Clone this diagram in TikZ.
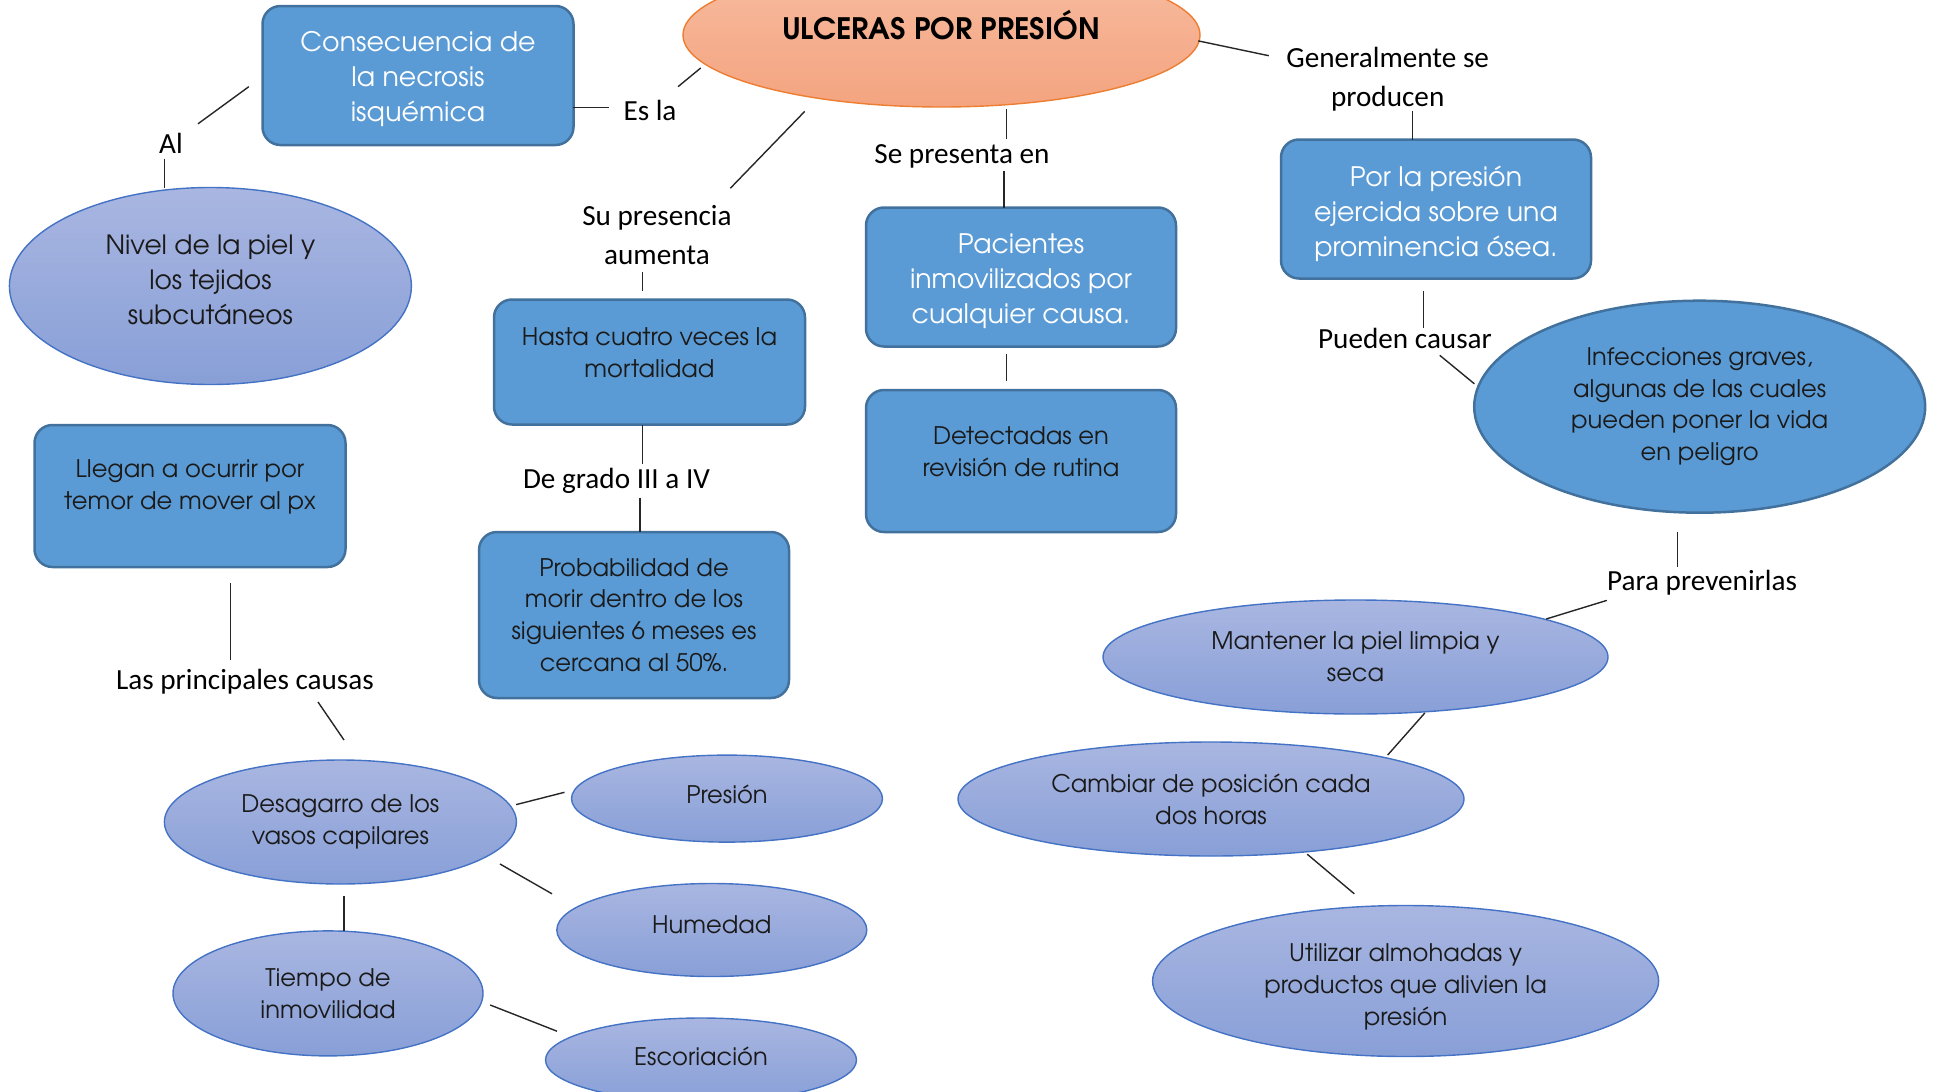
\documentclass[tikz,border=0pt]{standalone}
\usepackage{fontspec}
\usetikzlibrary{shapes.geometric}
\newfontfamily\gothfont{texgyreadventor}[Extension=.otf, UprightFont=*-regular, BoldFont=*-bold]
\newfontfamily\lblfont{Carlito}
\definecolor{boxblue}{HTML}{5B9BD5}
\definecolor{boxedge}{HTML}{41719C}
\definecolor{lavtop}{HTML}{A9B6E1}
\definecolor{lavbot}{HTML}{889FD7}
\definecolor{lavedge}{HTML}{4472C4}
\definecolor{orgtop}{HTML}{F7BCA1}
\definecolor{orgbot}{HTML}{F4A47F}
\definecolor{orgedge}{HTML}{ED7D31}
\definecolor{txtdark}{HTML}{1A1A1A}
\tikzset{
  bluebox/.style={draw=boxedge, line width=2.5pt, fill=boxblue, rounded corners=18pt, inner sep=0pt},
  lavell/.style={ellipse, draw=lavedge, line width=1.4pt, top color=lavtop, bottom color=lavbot, inner sep=0pt},
  blueell/.style={ellipse, draw=boxedge, line width=2.5pt, fill=boxblue, inner sep=0pt},
  titleell/.style={ellipse, draw=orgedge, line width=1.4pt, top color=orgtop, bottom color=orgbot, inner sep=0pt},
  bigwhite/.style={align=center, text=white, font=\gothfont\fontsize{26.8}{34.7}\selectfont},
  smalldark/.style={align=center, text=txtdark, font=\gothfont\fontsize{24.2}{31.8}\selectfont},
  bigdark/.style={align=center, text=txtdark, font=\gothfont\fontsize{26.5}{34.7}\selectfont},
  lbl/.style={align=center, text=black, font=\lblfont\fontsize{29.2}{38.6}\selectfont, inner sep=0pt},
  conn/.style={draw=black!85, line width=1.4pt},
}
\begin{document}
\begin{tikzpicture}[x=1pt,y=-1pt]
\useasboundingbox (0,0) rectangle (1941,1092);
\clip (0,0) rectangle (1941,1092);

% ---------- title ----------
\node[titleell, minimum width=517pt, minimum height=144pt] (title) at (941.5,35) {};
\node[align=center, font=\gothfont\bfseries\fontsize{29.5}{32}\selectfont] (titletext) at (941,25) {ULCERAS POR PRESIÓN};

% ---------- boxes ----------
\node[bluebox, minimum width=311pt, minimum height=139pt] (necrosis) at (418,75.5) {};
\node[bigwhite] (necrosistext) at (418,79) {Consecuencia de\\la necrosis\\isquémica};

\node[bluebox, minimum width=311pt, minimum height=125pt] (hasta) at (649.5,362) {};
\node[smalldark] (hastatext) at (649.5,353) {Hasta cuatro veces la\\mortalidad};

\node[bluebox, minimum width=310pt, minimum height=166pt] (prob) at (634,615) {};
\node[smalldark] (probtext) at (634,615) {Probabilidad de\\morir dentro de los\\siguientes 6 meses es\\cercana al 50\%.};

\node[bluebox, minimum width=310pt, minimum height=139pt] (pacientes) at (1021,277) {};
\node[bigwhite] (pacientestext) at (1021,281) {Pacientes\\inmovilizados por\\cualquier causa.};

\node[bluebox, minimum width=310pt, minimum height=142pt] (detect) at (1021,461) {};
\node[smalldark] (detecttext) at (1021,452) {Detectadas en\\revisión de rutina};

\node[bluebox, minimum width=310pt, minimum height=139pt] (presion) at (1436,209) {};
\node[bigwhite] (presiontext) at (1436,214) {Por la presión\\ejercida sobre una\\prominencia ósea.};

\node[bluebox, minimum width=311pt, minimum height=142pt] (llegan) at (190,496) {};
\node[smalldark] (llegantext) at (190,487) {Llegan a ocurrir por\\temor de mover al px};

% ---------- ellipses ----------
\node[lavell, minimum width=402pt, minimum height=197pt] (nivel) at (210.4,286) {};
\node[bigdark] (niveltext) at (210.4,280) {Nivel de la piel y\\los tejidos\\subcutáneos};
\node[blueell, minimum width=451pt, minimum height=212pt, smalldark] (infec) at (1699.7,406.7) {Infecciones graves,\\algunas de las cuales\\pueden poner la vida\\en peligro};
\node[lavell, minimum width=505pt, minimum height=114pt, smalldark] (mantener) at (1355.5,657) {Mantener la piel limpia y\\seca};
\node[lavell, minimum width=506pt, minimum height=114pt, smalldark] (cambiar) at (1211,799) {Cambiar de posición cada\\dos horas};
\node[lavell, minimum width=506pt, minimum height=151pt] (utilizar) at (1405.6,981) {};
\node[smalldark] (utilizartext) at (1405.6,987) {Utilizar almohadas y\\productos que alivien la\\presión};
\node[lavell, minimum width=352pt, minimum height=124pt, smalldark] (desgarro) at (340.4,822) {Desagarro de los\\vasos capilares};
\node[lavell, minimum width=311pt, minimum height=87pt] (presionell) at (727,798.6) {};
\node[smalldark] (presionelltext) at (727,794) {Presión};
\node[lavell, minimum width=310pt, minimum height=93pt] (humedad) at (711.8,930) {};
\node[smalldark] (humedadtext) at (711.8,925) {Humedad};
\node[lavell, minimum width=310pt, minimum height=125pt, smalldark] (tiempo) at (328,993.4) {Tiempo de\\inmovilidad};
\node[lavell, minimum width=311pt, minimum height=84pt] (escor) at (701,1060) {};
\node[smalldark] (escortext) at (701,1056) {Escoriación};

% ---------- labels ----------
\node[lbl] (esla) at (650,110) {Es la};
\node[lbl] (al) at (171,143.6) {Al};
\node[lbl] (supres) at (657,235) {Su presencia\\aumenta};
\node[lbl] (grado) at (616.5,481) {De grado III a IV};
\node[lbl] (sepres) at (962,156.5) {Se presenta en};
\node[lbl] (general) at (1387.7,79) {Generalmente se\\producen};
\node[lbl] (pueden) at (1405,338.5) {Pueden causar};
\node[lbl] (para) at (1702,583) {Para prevenirlas};
\node[lbl] (causas) at (245,682) {Las principales causas};

% ---------- connector ends ----------
\coordinate (c1a) at (573,107.7);   \coordinate (c1b) at (609,107.7);
\coordinate (c2a) at (678,86.7);    \coordinate (c2b) at (700.7,68);
\coordinate (c3a) at (198,123.8);   \coordinate (c3b) at (248.8,86.7);
\coordinate (c4a) at (164.6,158.5); \coordinate (c4b) at (164.6,188);
\coordinate (c5a) at (804.7,111.4); \coordinate (c5b) at (730.4,188.2);
\coordinate (c6a) at (642.5,272);   \coordinate (c6b) at (642.5,291);
\coordinate (c7a) at (642.5,424.6); \coordinate (c7b) at (642.5,464);
\coordinate (c8a) at (640,497.7);   \coordinate (c8b) at (640,532.3);
\coordinate (c9a) at (1006.5,109);  \coordinate (c9b) at (1006.5,138.6);
\coordinate (c10a) at (1004,170.8); \coordinate (c10b) at (1004,208);
\coordinate (c11a) at (1006.5,354); \coordinate (c11b) at (1006.5,381.3);
\coordinate (c12a) at (1198.3,40.9); \coordinate (c12b) at (1268.8,55.7);
\coordinate (c13a) at (1412.5,111.4); \coordinate (c13b) at (1412.5,139.9);
\coordinate (c14a) at (1423.6,291); \coordinate (c14b) at (1423.6,328);
\coordinate (c15a) at (1439.7,355.3); \coordinate (c15b) at (1474.4,383.8);
\coordinate (c16a) at (1677.4,532.3); \coordinate (c16b) at (1677.4,567);
\coordinate (c17a) at (1606.8,600.4); \coordinate (c17b) at (1546.2,619);
\coordinate (c18a) at (1424.8,713); \coordinate (c18b) at (1387.7,755);
\coordinate (c19a) at (1307.2,854.2); \coordinate (c19b) at (1354.3,893.8);
\coordinate (c20a) at (230.3,583);  \coordinate (c20b) at (230.3,659.8);
\coordinate (c21a) at (318,702);    \coordinate (c21b) at (344,740);
\coordinate (c22a) at (516.2,804.6); \coordinate (c22b) at (564.5,792.3);
\coordinate (c23a) at (500,864);    \coordinate (c23b) at (552,893.8);
\coordinate (c24a) at (344,896.3);  \coordinate (c24b) at (344,931);
\coordinate (c25a) at (490.2,1005); \coordinate (c25b) at (557,1031.2);

\foreach \i in {1,...,25} { \draw[conn] (c\i a) -- (c\i b); }
\end{tikzpicture}
\end{document}
